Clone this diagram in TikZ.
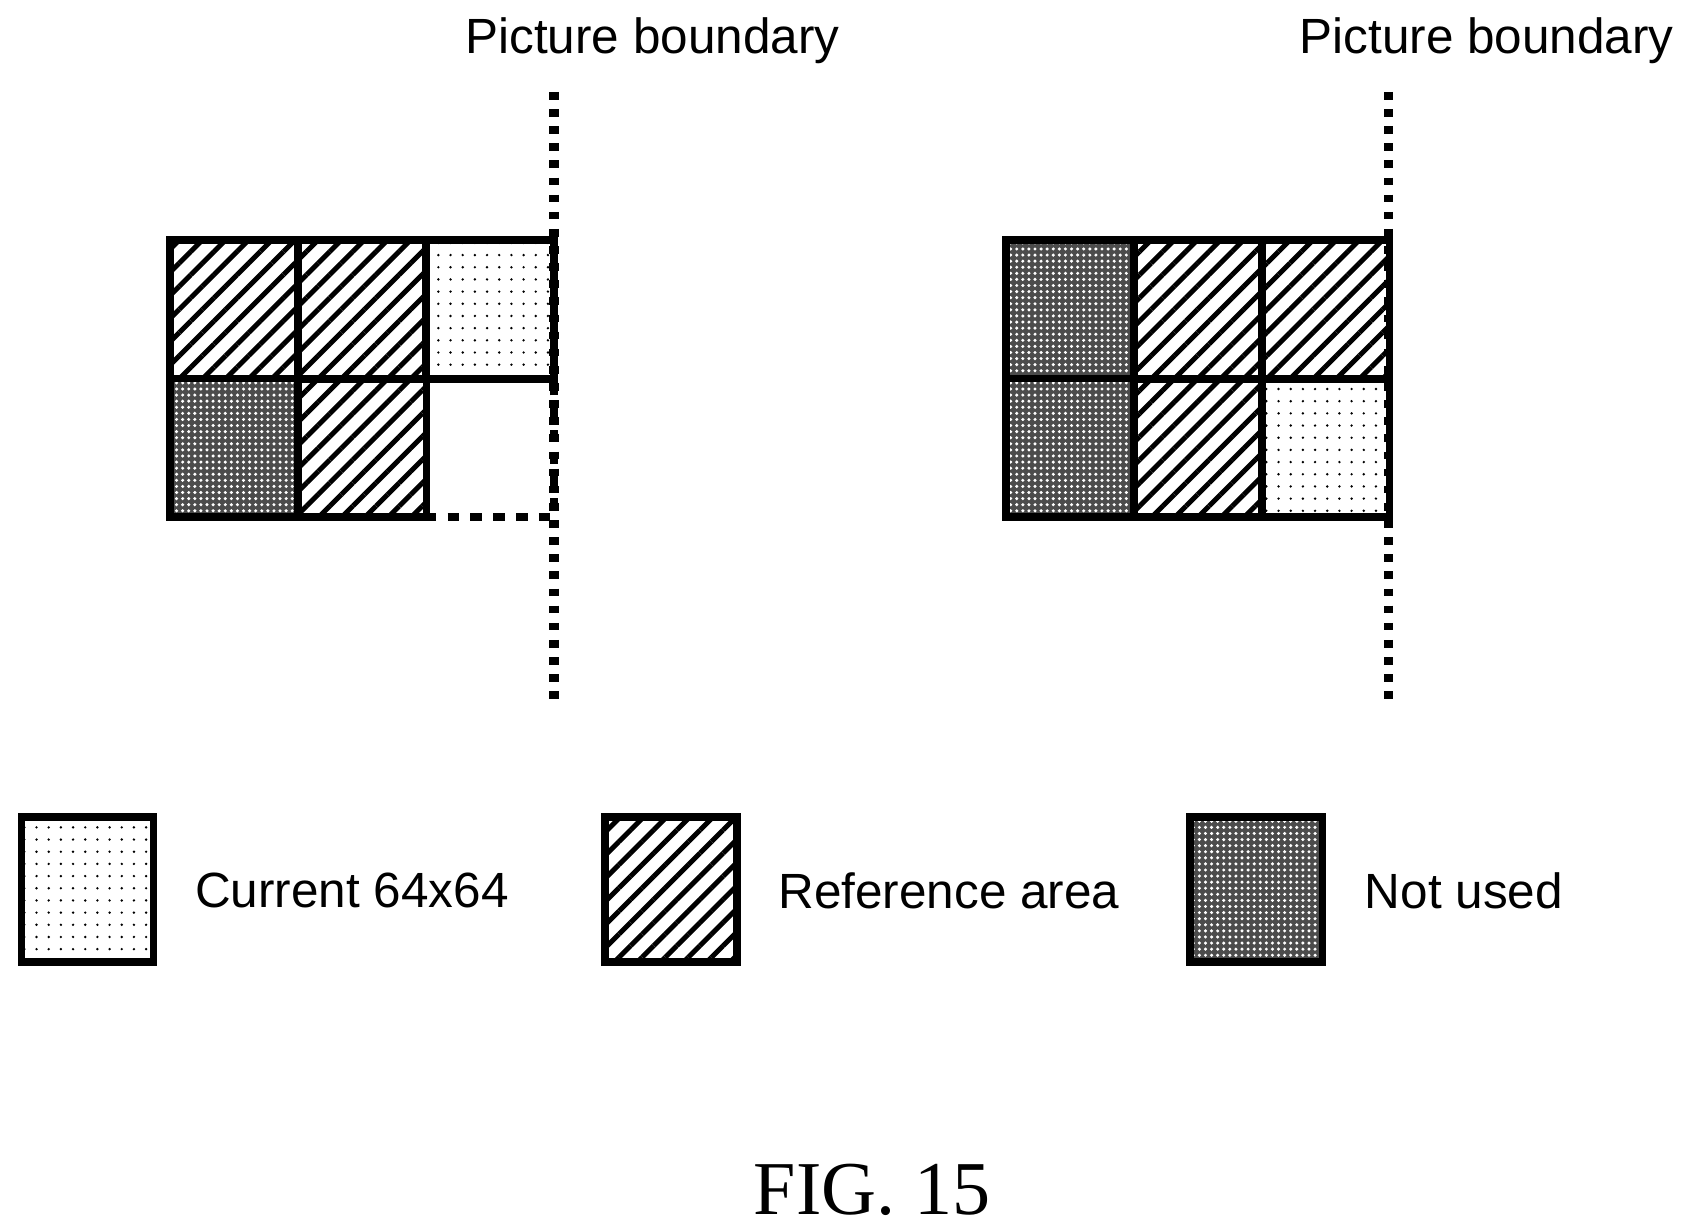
\documentclass[tikz,border=0pt]{standalone}
\usepackage{fontspec}
\setmainfont{Liberation Sans}
\newfontfamily\figfont{Liberation Serif}
\usetikzlibrary{patterns.meta}
\tikzset{
  cell/.style={draw, line width=2pt, minimum width=1.18cm, minimum height=1.28cm, inner sep=0pt},
  refcell/.style={cell, pattern={Lines[angle=45, distance=4.3pt, line width=1.3pt]}},
  curcell/.style={cell, pattern={Dots[distance=3.2pt, radius=0.35pt]}},
  unused/.style={cell, preaction={fill=black!70}, pattern={Dots[distance=1.6pt, radius=0.45pt]}, pattern color=white},
  boundary/.style={line width=2.5pt, dash pattern=on 2pt off 2.5pt},
  lbl/.style={font=\fontsize{13}{16}\selectfont}
}
\begin{document}
\begin{tikzpicture}[x=0.01cm, y=-0.01cm]
    \useasboundingbox (0,0) rectangle (1560,1136);
    % Left block
    \node[refcell] (la) at (216,286) {};
    \node[refcell] (lb) at (335,286) {};
    \node[curcell] (lc) at (453,286) {};
    \node[unused]  (ld) at (216,414) {};
    \node[refcell] (le) at (335,414) {};
    \coordinate (lf1) at (394,350);
    \coordinate (lf2) at (512,478);
    \draw[line width=2pt, dashed] (lf1) -- (lf1 |- lf2) -- (lf2) -- (lf2 |- lf1);
    % Right block
    \node[unused]  (ra) at (989,286) {};
    \node[refcell] (rb) at (1107,286) {};
    \node[refcell] (rc) at (1225,286) {};
    \node[unused]  (rd) at (989,414) {};
    \node[refcell] (re) at (1107,414) {};
    \node[curcell] (rf) at (1225,414) {};
    % Boundaries
    \node[lbl] (lt) at (603,38) {Picture boundary};
    \node[lbl] (rt) at (1374,38) {Picture boundary};
    \draw[boundary] (512,85) -- (512,648);
    \draw[boundary] (1283,85) -- (1283,648);
    % Legend
    \node[curcell, minimum height=1.34cm, minimum width=1.22cm] (k1) at (81,822) {};
    \node[lbl, anchor=west] (t1) at (168,823) {Current 64x64};
    \node[refcell, minimum height=1.34cm, minimum width=1.22cm] (k2) at (620,822) {};
    \node[lbl, anchor=west] (t2) at (707,823) {Reference area};
    \node[unused, minimum height=1.34cm, minimum width=1.22cm] (k3) at (1161,822) {};
    \node[lbl, anchor=west] (t3) at (1249,823) {Not used};
    % Caption
    \node[font=\figfont\fontsize{20}{24}\selectfont] (fig) at (806,1100) {FIG. 15};
\end{tikzpicture}
\end{document}
